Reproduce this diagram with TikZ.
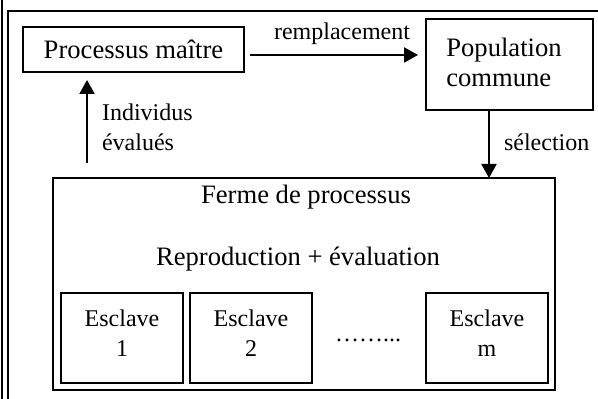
\documentclass[tikz,border=0pt]{standalone}
\usepackage{fontspec}
\setmainfont{Liberation Serif}
\usetikzlibrary{arrows.meta,calc}
\begin{document}
\begin{tikzpicture}[x=0.5pt,y=-0.5pt,
  box/.style={draw,line width=1pt,inner sep=0pt,outer sep=0pt},
  big/.style={font=\fontsize{13.3}{15}\selectfont},
  small/.style={font=\fontsize{12}{15}\selectfont},
  arr/.style={line width=1pt,-{Triangle[length=7pt,width=7.5pt]}},
  frameline/.style={line width=0.8pt}]
\useasboundingbox (0,0) rectangle (598,399);
% page frame
\draw[frameline] (2,0) -- (2,399);
\draw[frameline] (8,399) -- (8,11) -- (598,11);

% master process and shared population
\node[box,big,minimum width=110.5pt,minimum height=22.5pt] (pm) at (133.5,49.5) {Processus maître};
\node[box,minimum width=83.5pt,minimum height=45.5pt] (pop) at (509.5,64.5) {};
\node[big,align=left] (popt) at (504,62) {Population\\commune};

% process farm
\node[box,minimum width=251pt,minimum height=106pt] (ferme) at (304,284) {};
\node[big] (titre) at (306,197) {Ferme de processus};
\node[big] (repro) at (298,259) {Reproduction + évaluation};

% slaves
\node[box,minimum width=61pt,minimum height=45pt] (e1) at (122,338) {};
\node[box,minimum width=61pt,minimum height=45pt] (e2) at (251,338) {};
\node[box,minimum width=61pt,minimum height=45pt] (em) at (487,338) {};
\node[small,align=center] (e1t) at ($(e1)+(0,-5)$) {Esclave\\1};
\node[small,align=center] (e2t) at ($(e2)+(0,-5)$) {Esclave\\2};
\node[small,align=center] (emt) at ($(em)+(0,-5)$) {Esclave\\m};
\node[small] (dots) at (368,340) {……...};

% connectors
\draw[arr] ($(pm.east)+(6,5.5)$) -- ($(pop.west |- pm.east)+(-8,5.5)$);
\node[small] (lrep) at (342,34) {remplacement};
\draw[arr] (489,0 |- pop.south) -- (489,0 |- ferme.north);
\node[small,anchor=west] (lsel) at (497,142) {sélection};
\draw[arr] ($(87,0 |- ferme.north)+(0,-15)$) -- ($(87,0 |- pm.south)+(0,8)$);
\node[small,anchor=west,align=left] (lind) at (95,127) {Individus\\évalués};
\end{tikzpicture}
\end{document}
